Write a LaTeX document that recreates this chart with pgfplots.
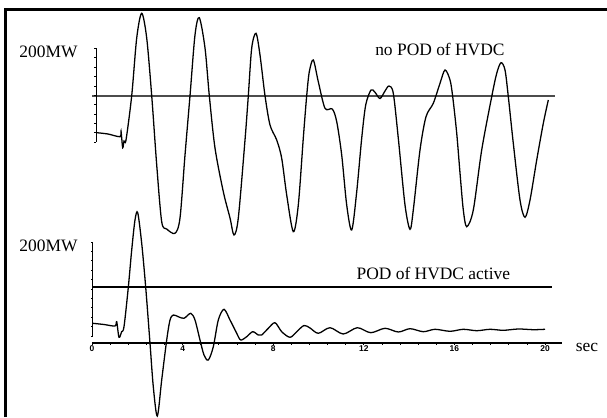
\documentclass[border=0pt]{standalone}
\usepackage{fontspec}
\setmainfont{Liberation Serif}
\newfontfamily\ticksf{Liberation Sans}
\usepackage{pgfplots}
\pgfplotsset{compat=1.18}
\begin{document}
\begin{tikzpicture}
\begin{axis}[
  scale only axis, width=424.9pt, height=291.9pt,
  xmin=-4.0618, xmax=22.737, ymin=0, ymax=417,
  hide axis, clip=false,
]
% frame (top and left edges)
\draw[line width=2.1pt] (-3.797,0) -- (-3.797,407) -- (23.5,407);
% reference lines
\draw[line width=1pt, black!70] (0,321) -- (20.44,321);
\draw[line width=0.75pt] (0,130) -- (20.31,130);
% vertical scale bars
\draw[line width=0.7pt] (0.177,368.5) -- (0.177,275);
\pgfplotsinvokeforeach{0,1,2,3,4,5,6,7,8,9,10}{
  \draw[line width=0.5pt] (0.177,368.5-9.35*#1) -- (0.177-0.09,368.5-9.35*#1);
}
\draw[line width=0.7pt] (0.03,175) -- (0.03,81);
\pgfplotsinvokeforeach{0,1,2,3,4,5,6,7,8,9,10}{
  \draw[line width=0.5pt] (0.03,175-9.4*#1) -- (0.03-0.09,175-9.4*#1);
}
% time axis
\draw[line width=0.8pt] (0,74) -- (20.75,74);
\pgfplotsinvokeforeach{0,0.8,1.6,2.4,3.2,4,4.8,5.6,6.4,7.2,8,8.8,9.6,10.4,11.2,12,12.8,13.6,14.4,15.2,16,16.8,17.6,18.4,19.2,20}{
  \draw[line width=0.5pt] (#1,74) -- (#1,72);
}
\pgfplotsinvokeforeach{0,4,8,12,16,20}{
  \node[font=\ticksf\bfseries\fontsize{5.9}{6}\selectfont, anchor=center] at (#1,68) {#1};
}
% labels
\node[font=\fontsize{12.2}{14}\selectfont] at (-1.92,365) {200MW};
\node[font=\fontsize{12.2}{14}\selectfont] at (-1.92,171) {200MW};
\node[font=\fontsize{12.2}{14}\selectfont] at (15.36,368) {no POD of HVDC};
\node[font=\fontsize{12.2}{14}\selectfont] at (15.07,144) {POD of HVDC active};
\node[font=\fontsize{12.2}{14}\selectfont] at (21.85,70) {sec};

% trace without POD
\addplot[black, line width=0.9pt, smooth, tension=0.5] coordinates {
(0.207,284.3) (0.706,283) (1.236,280.3) (1.280,286) (1.355,269.3) (1.413,276) (1.501,277)
(1.753,321.3) (1.974,379) (2.194,403.7) (2.415,379) (2.636,321.3) (2.857,252) (3.077,195.3)
(3.298,188) (3.664,183.7) (3.885,199) (4.106,262) (4.327,321.3) (4.547,382) (4.737,399.3)
(4.989,369) (5.179,321.3) (5.430,269) (5.797,225.3) (6.093,199) (6.269,182) (6.459,199)
(6.755,277) (6.901,321.3) (7.051,369) (7.241,383.7) (7.417,362) (7.638,321.3) (7.859,292)
(8.155,277) (8.375,258.7) (8.596,222) (8.887,185.3) (9.108,212) (9.329,279) (9.479,321.3)
(9.594,345.3) (9.770,357) (9.991,335.3) (10.287,308.7) (10.609,308) (10.804,295.3) (11.024,262)
(11.245,212) (11.466,187) (11.687,225.3) (11.907,278.7) (12.084,312) (12.318,327) (12.494,324.7)
(12.715,318.5) (12.936,326) (13.113,331) (13.302,323.7) (13.523,278.7) (13.819,212) (14.040,187.7)
(14.185,207) (14.481,267) (14.746,300.3) (15.068,313.7) (15.364,333.7) (15.585,347) (15.806,337)
(15.925,320.3) (16.101,284) (16.247,244) (16.393,207) (16.543,190.3) (16.834,207) (17.205,267)
(17.647,320.3) (17.868,343.7) (18.057,354.3) (18.234,347) (18.380,320.3) (18.600,273.7) (18.896,217)
(19.117,199.7) (19.338,217) (19.634,257) (19.925,293.7) (20.146,317)
};
% trace with POD active
\addplot[black, line width=0.9pt, smooth, tension=0.5] coordinates {
(0.031,93.7) (0.530,92.5) (1.015,91) (1.090,95.3) (1.192,79.7) (1.311,85.3) (1.413,90.3)
(1.603,129.7) (1.753,167) (1.898,197) (2.018,204.3) (2.194,173.7) (2.371,129.7) (2.561,73.7)
(2.706,30.3) (2.883,1) (3.077,37) (3.298,77) (3.444,97) (3.589,102) (3.810,100.3) (4.062,98.7)
(4.358,103.7) (4.547,97) (4.768,77) (4.945,62) (5.135,57) (5.356,70.3) (5.576,97) (5.828,107.7)
(6.093,97) (6.389,83.7) (6.565,77) (6.830,80.3) (7.095,85.3) (7.342,82) (7.492,82) (7.784,88.7)
(8.079,94.3) (8.375,85.3) (8.742,79.7) (9.038,85.3) (9.360,91.5) (9.625,89) (9.991,83.7)
(10.508,89.3) (11.095,83) (11.713,89.3) (12.305,84.3) (12.936,88.7) (13.523,85) (14.040,88.3)
(14.627,85.3) (15.143,87.7) (15.806,85.7) (16.393,87.7) (16.984,86.3) (17.572,87.7) (18.159,86.7)
(18.821,88) (19.484,87.3) (20.000,87.7)
};
\end{axis}
\pgfresetboundingbox
\path[use as bounding box] (0,0) rectangle (424.9pt,291.9pt);
\end{tikzpicture}
\end{document}
